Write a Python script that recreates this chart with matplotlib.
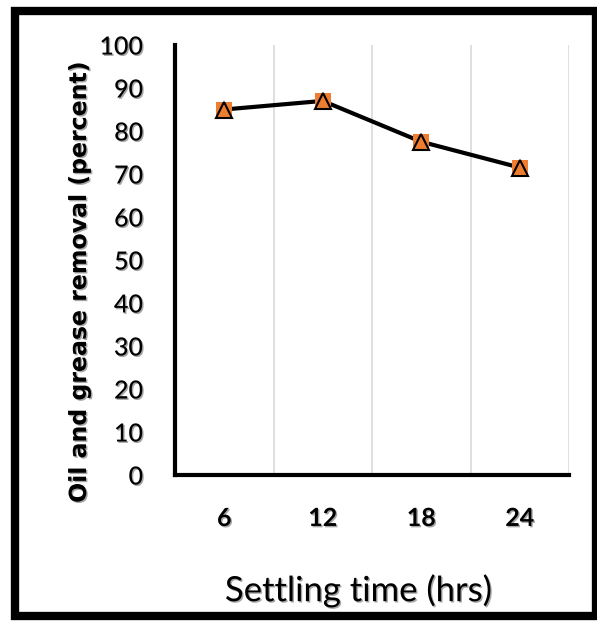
import matplotlib.pyplot as plt
import matplotlib.patheffects as pe
from matplotlib.patches import Rectangle

# settling time categories and measured removal
hours = ['6', '12', '18', '24']
removal = [85.0, 87.0, 77.5, 71.5]
y_ticks = [0, 10, 20, 30, 40, 50, 60, 70, 80, 90, 100]

W, H = 597, 622
fig = plt.figure(figsize=(W / 100, H / 100), dpi=100)
ax = fig.add_axes([175 / W, 1 - 475 / H, (569 - 175) / W, (475 - 45) / H])

shadow = [pe.SimplePatchShadow(offset=(1, -1), alpha=0.35), pe.Normal()]

x = range(len(hours))
ax.plot(x, removal, color='black', linewidth=3, zorder=3)
ax.plot(x, removal, linestyle='none', marker='s', markersize=11,
        markerfacecolor='#ED7D31', markeredgewidth=0, zorder=4)
ax.plot(x, removal, linestyle='none', marker='^', markersize=11,
        markerfacecolor='none', markeredgecolor='black', markeredgewidth=1.5, zorder=5)

ax.set_xlim(-0.5, len(hours) - 0.5)
ax.set_ylim(0, 100)
ax.set_xticks(list(x))
ax.set_xticklabels(hours, fontfamily='Lato', fontweight='bold', fontsize=18,
                   path_effects=shadow)
ax.set_yticks(y_ticks)
ax.set_yticklabels([str(t) for t in y_ticks], fontfamily='Lato', fontweight='medium',
                   fontsize=18, path_effects=shadow)
ax.tick_params(axis='both', length=0)
ax.tick_params(axis='y', pad=23)
ax.tick_params(axis='x', pad=23)

# vertical grid lines between categories
for b in [i + 0.5 for i in range(len(hours))]:
    ax.axvline(b, color='#d9d9d9', linewidth=1.2, zorder=1)

for s in ['top', 'right']:
    ax.spines[s].set_visible(False)
for s in ['left', 'bottom']:
    ax.spines[s].set_linewidth(3)
    ax.spines[s].set_color('black')

ax.set_ylabel('Oil and grease removal (percent)', fontfamily='DejaVu Sans',
              fontweight='bold', fontsize=17, path_effects=shadow)
ax.yaxis.set_label_coords((91 - 175) / (569 - 175), (475 - 282) / (475 - 45))
ax.set_xlabel('Settling time (hrs)', fontfamily='Lato', fontsize=25,
              path_effects=shadow)
ax.xaxis.set_label_coords((359 - 175) / (569 - 175), -(574 - 475) / (475 - 45))

# outer frame
fig.patches.append(Rectangle((15 / W, 1 - 616 / H), (596 - 15) / W, (616 - 11) / H,
                             transform=fig.transFigure, fill=False,
                             edgecolor='black', linewidth=6))

fig.savefig('out.png', dpi=100)
